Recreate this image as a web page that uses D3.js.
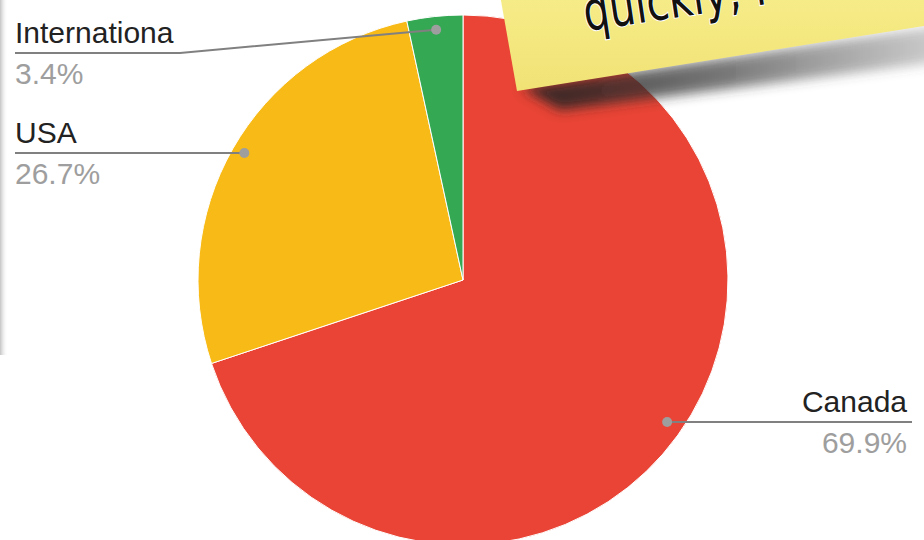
<!DOCTYPE html>
<html>
<head>
<meta charset="utf-8">
<script src="https://cdn.jsdelivr.net/npm/d3@7"></script>
<style>
  body { margin: 0; background: #fff; overflow: hidden; }
  svg { display: block; }
</style>
</head>
<body>
<div id="chart"></div>
<script>
// chart data
const categories = ["Canada", "USA", "Internationa"];
const shares = [69.9, 26.7, 3.4];
const sliceColors = ["#e94435", "#f8ba16", "#34a853"];
const noteText = "quickly, f";

var width = 924, height = 540;
var cx = 463, cy = 280, radius = 265;

// label placement (layout only)
const labelLayout = [
    { lineY: 422, x1: 912, textX: 907, anchor: "end" },
    { lineY: 153, x0: 15, elbow: null, textX: 15, anchor: "start" },
    { lineY: 53, x0: 15, elbow: 180, textX: 15, anchor: "start" }
];

var svg = d3.select("#chart").append("svg")
    .attr("width", width)
    .attr("height", height);

var defs = svg.append("defs");

var edge = defs.append("linearGradient").attr("id", "edgeShade");
edge.append("stop").attr("offset", "0%").attr("stop-color", "#c4c4c4");
edge.append("stop").attr("offset", "100%").attr("stop-color", "#fff").attr("stop-opacity", 0);

defs.append("filter").attr("id", "blur")
    .attr("x", "-20%").attr("y", "-50%").attr("width", "140%").attr("height", "200%")
    .append("feGaussianBlur").attr("stdDeviation", 6);

var shadowGrad = defs.append("linearGradient").attr("id", "shadowGrad");
shadowGrad.append("stop").attr("offset", "0%").attr("stop-color", "#222").attr("stop-opacity", 0.9);
shadowGrad.append("stop").attr("offset", "50%").attr("stop-color", "#333").attr("stop-opacity", 0.65);
shadowGrad.append("stop").attr("offset", "100%").attr("stop-color", "#555").attr("stop-opacity", 0.3);

var noteGrad = defs.append("linearGradient").attr("id", "noteGrad")
    .attr("x1", 0).attr("y1", 0).attr("x2", 0).attr("y2", 1);
noteGrad.append("stop").attr("offset", "0%").attr("stop-color", "#f6ec88");
noteGrad.append("stop").attr("offset", "100%").attr("stop-color", "#f1e275");

// faint shadow along the left edge
svg.append("rect")
    .attr("x", 0).attr("y", 0)
    .attr("width", 8).attr("height", 355)
    .attr("fill", "url(#edgeShade)");

// pie
var pie = d3.pie().sort(null).value(d => d);
var arcs = pie(shares);

var arc = d3.arc().innerRadius(0).outerRadius(radius);
var dotArc = d3.arc().innerRadius(radius * 0.95).outerRadius(radius * 0.95);

var g = svg.append("g").attr("transform", "translate(" + cx + "," + cy + ")");

g.selectAll("path.slice")
    .data(arcs)
    .enter().append("path")
    .attr("class", "slice")
    .attr("d", arc)
    .attr("fill", (d, i) => sliceColors[i])
    .attr("stroke", "#fff")
    .attr("stroke-width", 1);

// labels with leader lines
var labels = svg.append("g").attr("class", "labels");

arcs.forEach(function (d, i) {
    var lay = labelLayout[i];
    var c = dotArc.centroid(d);
    var px = cx + c[0], py = cy + c[1];
    var pts;
    if (lay.anchor === "end") {
        py = lay.lineY;
        pts = [[px, py], [lay.x1, py]];
    } else if (lay.elbow) {
        pts = [[lay.x0, lay.lineY], [lay.elbow, lay.lineY], [px, py]];
    } else {
        py = lay.lineY;
        pts = [[lay.x0, py], [px, py]];
    }

    labels.append("path")
        .attr("d", d3.line()(pts))
        .attr("fill", "none")
        .attr("stroke", "#808080")
        .attr("stroke-width", 2);

    labels.append("circle")
        .attr("cx", px).attr("cy", py)
        .attr("r", 5)
        .attr("fill", "#9e9e9e");

    labels.append("text")
        .attr("x", lay.textX).attr("y", lay.lineY - 10)
        .attr("text-anchor", lay.anchor)
        .style("font-family", "'Liberation Sans', Arial, sans-serif")
        .style("font-size", "30px")
        .attr("fill", "#222")
        .text(categories[i]);

    labels.append("text")
        .attr("x", lay.textX).attr("y", lay.lineY + 31)
        .attr("text-anchor", lay.anchor)
        .style("font-family", "'Liberation Sans', Arial, sans-serif")
        .style("font-size", "30px")
        .attr("fill", "#9e9e9e")
        .text(d3.format(".1f")(shares[i]) + "%");
});

// sticky note in the corner (its text is cut by the top edge, as in the photo)
var note = svg.append("g").attr("class", "note");

note.append("polygon")
    .attr("points", "522,88 560,110 940,62 940,26")
    .attr("fill", "url(#shadowGrad)")
    .attr("filter", "url(#blur)");

note.append("polygon")
    .attr("points", "500,-5 517,91 930,25 930,-5")
    .attr("fill", "url(#noteGrad)");

note.append("text")
    .attr("transform", "translate(586,31) rotate(-8.5)")
    .attr("textLength", 186)
    .attr("lengthAdjust", "spacingAndGlyphs")
    .style("font-family", "'DejaVu Sans', sans-serif")
    .style("font-size", "54px")
    .style("font-weight", "normal")
    .attr("fill", "#111")
    .attr("stroke", "#fff")
    .attr("stroke-width", 2)
    .attr("paint-order", "stroke")
    .text(noteText);
</script>
</body>
</html>
